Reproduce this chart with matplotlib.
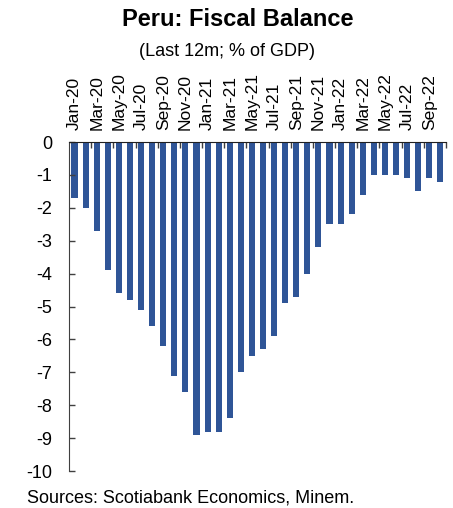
import matplotlib
matplotlib.use("Agg")
import matplotlib.pyplot as plt
import numpy as np

plt.rcParams["font.family"] = ["Liberation Sans", "DejaVu Sans"]

# monthly, Jan-20 .. Oct-22
months = [
    "Jan-20", "Feb-20", "Mar-20", "Apr-20", "May-20", "Jun-20", "Jul-20", "Aug-20",
    "Sep-20", "Oct-20", "Nov-20", "Dec-20", "Jan-21", "Feb-21", "Mar-21", "Apr-21",
    "May-21", "Jun-21", "Jul-21", "Aug-21", "Sep-21", "Oct-21", "Nov-21", "Dec-21",
    "Jan-22", "Feb-22", "Mar-22", "Apr-22", "May-22", "Jun-22", "Jul-22", "Aug-22",
    "Sep-22", "Oct-22",
]
balance = [
    -1.7, -2.0, -2.7, -3.9, -4.6, -4.8, -5.1, -5.6,
    -6.2, -7.1, -7.6, -8.9, -8.8, -8.8, -8.4, -7.0,
    -6.5, -6.3, -5.9, -4.9, -4.7, -4.0, -3.2, -2.5,
    -2.5, -2.2, -1.6, -1.0, -1.0, -1.0, -1.1, -1.5,
    -1.1, -1.2,
]
yticks = list(range(0, -11, -1))

BAR_COLOR = "#2F5597"

fig = plt.figure(figsize=(4.53, 5.08), dpi=100)
ax = fig.add_axes([0.1523, 0.0728, 0.832, 0.6476])

x = np.arange(len(months))
ax.bar(x, balance, width=0.55, color=BAR_COLOR)

ax.set_xlim(-0.5, len(months) - 0.5)
ax.set_ylim(-10, 0)

# category axis sits on top at zero, labels every other month
ax.xaxis.tick_top()
ax.set_xticks(x[::2])
ax.set_xticklabels(months[::2], rotation=90, fontsize=12.5)
ax.set_xticks(np.arange(1.5, len(months), 2), minor=True)
ax.tick_params(axis="x", which="major", length=0, pad=9)
ax.tick_params(axis="x", which="minor", direction="in", length=4, width=1, color="#404040")

ax.set_yticks(yticks)
ax.set_yticklabels([str(v) for v in yticks], fontsize=13)
ax.tick_params(axis="y", direction="in", length=4, width=1, pad=12, color="#404040")

for side in ["right", "bottom"]:
    ax.spines[side].set_visible(False)
ax.spines["top"].set_color("#202020")
ax.spines["left"].set_color("#404040")

fig.text(0.525, 0.961, "Peru: Fiscal Balance", ha="center", va="center",
         fontsize=17, fontweight="bold")
fig.text(0.501, 0.898, "(Last 12m; % of GDP)", ha="center", va="center", fontsize=13)
fig.text(0.06, 0.020, "Sources: Scotiabank Economics, Minem.", ha="left", va="center",
         fontsize=13)

fig.savefig("out.png", dpi=100)
